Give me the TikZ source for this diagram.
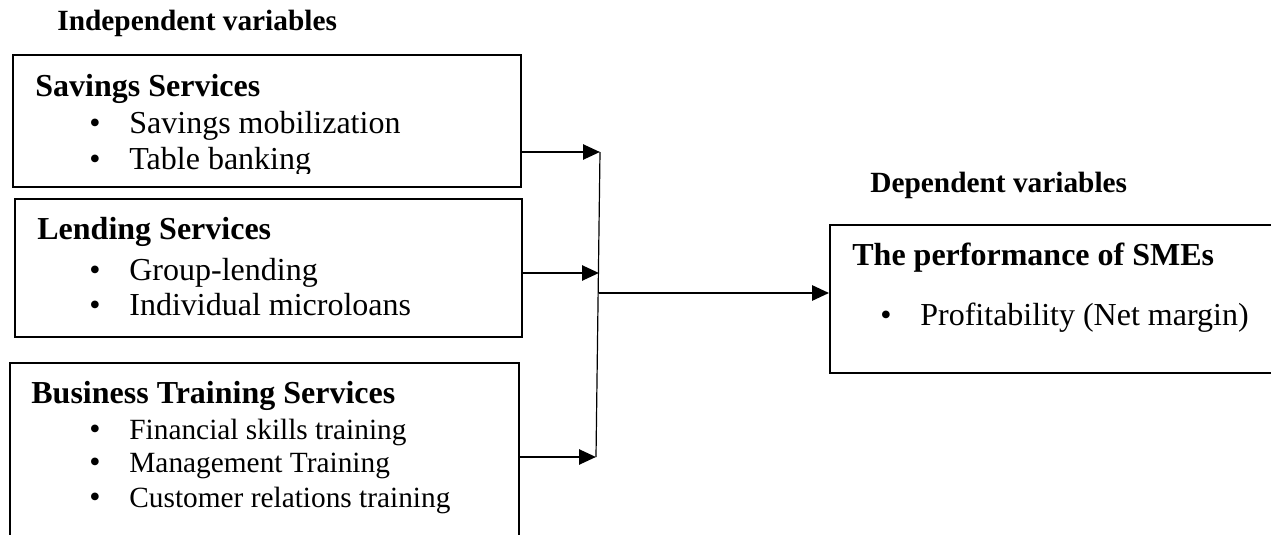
\documentclass[tikz,border=0pt]{standalone}
\usepackage{fontspec}
\setmainfont{Liberation Serif}
\usetikzlibrary{arrows.meta}
\begin{document}
\begin{tikzpicture}[x=0.5pt,y=-0.5pt,
  box/.style={draw, line width=0.9pt, rectangle, inner sep=0pt},
  hd/.style={anchor=base west, inner sep=0pt, font=\fontsize{16}{19}\selectfont\bfseries},
  txt/.style={anchor=base west, inner sep=0pt, font=\fontsize{16}{19}\selectfont},
  stxt/.style={anchor=base west, inner sep=0pt, font=\fontsize{14.67}{17}\selectfont},
  lbl/.style={anchor=base west, inner sep=0pt, font=\fontsize{14.67}{17}\selectfont\bfseries},
  arr/.style={-{Triangle[length=8.5pt,width=7.5pt]}, line width=1.3pt},
  conn/.style={line width=0.6pt}]
\useasboundingbox (0,0) rectangle (1271,535);
\clip (0,0) rectangle (1271,535);
\newcommand{\bl}[1]{\makebox[20pt][l]{\fontsize{16}{19}\selectfont•}#1}

% labels
\node[lbl] (lind) at (57,31) {Independent variables};
\node[lbl] (ldep) at (870,192) {Dependent variables};

% boxes
\node[box, minimum width=254pt, minimum height=66pt] (b1) at (267,121) {};
\node[box, minimum width=253.5pt, minimum height=69pt] (b2) at (268.5,268) {};
\node[box, minimum width=254.5pt, minimum height=91pt] (b3) at (264.5,454) {};
\node[box, minimum width=235pt, minimum height=74pt] (dep) at (1065,299) {};

% box 1 text
\begin{scope}
\clip (13,55) rectangle (521,174);
\node[hd] (h1) at (35,97) {Savings Services};
\node[txt] (s1) at (89,134) {\bl{Savings mobilization}};
\node[txt] (s2) at (89,170) {\bl{Table banking}};
\end{scope}

% box 2 text
\node[hd] (h2) at (37,240) {Lending Services};
\node[txt] (l1) at (89,280) {\bl{Group-lending}};
\node[txt] (l2) at (89,315) {\bl{Individual microloans}};

% box 3 text
\node[hd] (h3) at (31,403) {Business Training Services};
\node[stxt] (c1) at (89,439) {\bl{Financial skills training}};
\node[stxt] (c2) at (89,473) {\bl{Management Training}};
\node[stxt] (c3) at (89,507) {\bl{Customer relations training}};

% dependent box text
\node[hd] (h4) at (852,265) {The performance of SMEs};
\node[txt] (p1) at (880,326) {\bl{Profitability (Net margin)}};

% connectors
\coordinate (jt) at (600,152);
\coordinate (jb) at (596,457);
\coordinate (j2) at (599,273);
\coordinate (jm) at (599,293);
\draw[conn] (jt) -- (jb);
\draw[arr] (b1.east |- jt) -- (jt);
\draw[arr] (b2.east |- j2) -- (j2);
\draw[arr] (b3.east |- jb) -- (jb);
\draw[arr] (jm) -- (dep.west |- jm);
\end{tikzpicture}
\end{document}
